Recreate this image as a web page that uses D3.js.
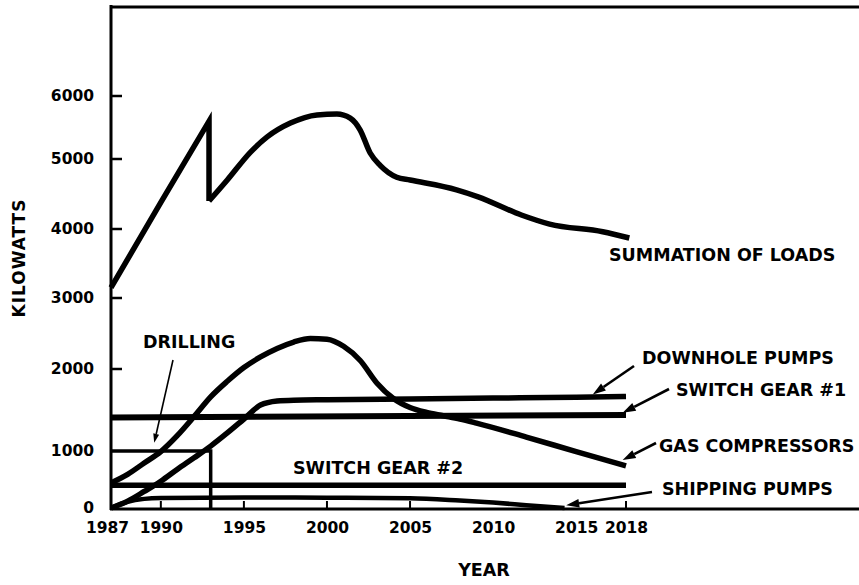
<!DOCTYPE html>
<html>
<head>
<meta charset="utf-8">
<script src="https://cdn.jsdelivr.net/npm/d3@7"></script>
<style>
  html, body { margin: 0; padding: 0; background: #fff; }
  svg { display: block; }
  text { font-family: "DejaVu Sans", sans-serif; font-weight: bold; fill: #000; }
</style>
</head>
<body>
<svg id="chart" width="859" height="585"></svg>
<script>
// Axis ticks
const yearTicks = [1987, 1990, 1995, 2000, 2005, 2010, 2015, 2018];
const yearTickMarks = [1990, 1995, 2000, 2005, 2018];
const kwTicks = [0, 1000, 2000, 3000, 4000, 5000, 6000];
const kwTickMarks = [2000, 3000, 4000, 5000, 6000];

// Load series: [year, kilowatts]
const summationRise = [[1987, 3150], [1990, 4380], [1992.9, 5600], [1992.9, 4400]];
const summationAfter = [
  [1992.9, 4400], [1994, 4700], [1995.4, 5110], [1996.4, 5350], [1997.8, 5570],
  [1999.4, 5700], [2000.6, 5715], [2001.4, 5650], [2002, 5460], [2002.6, 5095],
  [2003.2, 4910], [2004.2, 4740], [2005, 4700], [2007.8, 4560], [2009.1, 4460],
  [2011.7, 4200], [2013.4, 4070], [2016.6, 3960], [2018.2, 3870]
];
const gasCompressors = [
  [1987, 440], [1988, 590], [1989, 790], [1990, 990], [1991, 1190], [1992, 1420],
  [1993, 1660], [1994, 1850], [1995, 2020], [1996, 2170], [1997, 2290], [1998, 2380],
  [1999, 2430], [2000, 2420], [2001, 2320], [2002, 2120], [2003, 1830], [2004, 1640],
  [2005, 1530], [2006, 1470], [2007, 1430], [2008, 1390], [2009, 1340], [2012, 1170],
  [2015, 990], [2018, 740]
];
const downholePumps = [
  [1987, 0], [1988, 120], [1989, 290], [1990, 470], [1991, 680], [1992, 880],
  [1993, 1060], [1994, 1220], [1995, 1390], [1996, 1560], [1997, 1610], [1998, 1620],
  [2000, 1625], [2005, 1635], [2010, 1645], [2015, 1655], [2018, 1665]
];
const switchGear1 = [[1987, 1410], [2018, 1440]];
const switchGear2 = [[1987, 400], [2018, 400]];
const drilling = [[1987, 1000], [1993, 1000], [1993, 0]];
const shippingPumps = [
  [1987, 0], [1988, 110], [1989, 160], [1990, 175], [1995, 185], [2000, 180],
  [2005, 170], [2008, 130], [2010, 95], [2012, 50], [2014.3, 0]
];

const svg = d3.select("#chart");

const x = d3.scaleLinear().domain([1987, 2018]).range([111, 626]);
// The kilowatt axis is hand-spaced: each thousand has its own segment.
const y = d3.scaleLinear().domain(kwTicks).range([508, 451, 369, 298, 229, 159, 96]);

// Frame: left axis, top rule, bottom axis
svg.append("line").attr("x1", 111).attr("y1", 5).attr("x2", 111).attr("y2", 510)
  .attr("stroke", "#000").attr("stroke-width", 3);
svg.append("line").attr("x1", 110).attr("y1", 7).attr("x2", 859).attr("y2", 7)
  .attr("stroke", "#000").attr("stroke-width", 3);
svg.append("line").attr("x1", 110).attr("y1", 509).attr("x2", 859).attr("y2", 509)
  .attr("stroke", "#000").attr("stroke-width", 3);

// Tick marks pointing into the plot
svg.append("g").selectAll("line").data(kwTickMarks).join("line")
  .attr("x1", 111).attr("x2", 122)
  .attr("y1", d => y(d)).attr("y2", d => y(d))
  .attr("stroke", "#000").attr("stroke-width", 2.5);
svg.append("g").selectAll("line").data(yearTickMarks).join("line")
  .attr("x1", d => x(d)).attr("x2", d => x(d))
  .attr("y1", 509).attr("y2", 501)
  .attr("stroke", "#000").attr("stroke-width", 2);

// Tick labels
const xAxis = svg.append("g").attr("transform", "translate(0,509)")
  .call(d3.axisBottom(x).tickValues(yearTicks).tickFormat(d3.format("d")).tickSize(0).tickPadding(13));
const yAxis = svg.append("g").attr("transform", "translate(111,0)")
  .call(d3.axisLeft(y).tickValues(kwTicks).tickFormat(d3.format("d")).tickSize(0).tickPadding(17));
[xAxis, yAxis].forEach(g => {
  g.select(".domain").remove();
  g.selectAll("text")
    .attr("font-family", "DejaVu Sans, sans-serif")
    .attr("font-weight", "bold")
    .attr("font-size", 15.5)
    .attr("fill", "#000");
});
// the first year label sits just left of the corner
xAxis.selectAll(".tick").filter(d => d === 1987).select("text").attr("dx", -4);

// Axis titles
svg.append("text").attr("x", 484).attr("y", 570)
  .attr("text-anchor", "middle").attr("dominant-baseline", "central")
  .attr("font-size", 17.5).text("YEAR");
svg.append("text")
  .attr("transform", "translate(19,258) rotate(-90)")
  .attr("text-anchor", "middle").attr("dominant-baseline", "central")
  .attr("font-size", 17).attr("letter-spacing", 1).text("KILOWATTS");

// Series
const lineSmooth = d3.line().x(d => x(d[0])).y(d => y(d[1])).curve(d3.curveMonotoneX);
const lineStraight = d3.line().x(d => x(d[0])).y(d => y(d[1]));

const plot = svg.append("g").attr("fill", "none").attr("stroke", "#000")
  .attr("stroke-linejoin", "round");

plot.append("path").attr("d", lineStraight(switchGear1)).attr("stroke-width", 6);
plot.append("path").attr("d", lineStraight(switchGear2)).attr("stroke-width", 5.5);
plot.append("path").attr("d", lineStraight(drilling)).attr("stroke-width", 3.5).attr("stroke-linejoin", "miter");
plot.append("path").attr("d", lineSmooth(shippingPumps)).attr("stroke-width", 4.5);
plot.append("path").attr("d", lineSmooth(downholePumps)).attr("stroke-width", 5.5);
plot.append("path").attr("d", lineSmooth(gasCompressors)).attr("stroke-width", 5.5);
plot.append("path").attr("d", lineStraight(summationRise)).attr("stroke-width", 5.5).attr("stroke-linejoin", "miter");
plot.append("path").attr("d", lineSmooth(summationAfter)).attr("stroke-width", 5.5);

// Labels with leader arrows
const notes = [
  { text: "DRILLING", tx: 143, ty: 342, tail: [173, 360], tip: [1989.6, 1100], w: 1.6, head: 9 },
  { text: "DOWNHOLE PUMPS", tx: 642, ty: 358, tail: [634, 366], tip: [2016, 1690], w: 2.6, head: 13 },
  { text: "SWITCH GEAR #1", tx: 676, ty: 390, tail: [669, 389], tip: [2017.8, 1465], w: 2.6, head: 13 },
  { text: "GAS COMPRESSORS", tx: 659, ty: 446, tail: [656, 443], tip: [2017.8, 840], w: 2.6, head: 13 },
  { text: "SHIPPING PUMPS", tx: 662, ty: 489, tail: [652, 492], tip: [2014.4, 50], w: 2.6, head: 13 }
];

const labelSize = 17.5;
const notesG = svg.append("g");
notes.forEach(n => {
  notesG.append("text").attr("x", n.tx).attr("y", n.ty)
    .attr("dominant-baseline", "central").attr("font-size", labelSize).text(n.text);
  const tx = x(n.tip[0]), ty = y(n.tip[1]);
  const dx = tx - n.tail[0], dy = ty - n.tail[1];
  const len = Math.hypot(dx, dy), ux = dx / len, uy = dy / len;
  const bx = tx - ux * n.head, by = ty - uy * n.head;
  const hw = n.head * 0.33;
  notesG.append("line")
    .attr("x1", n.tail[0]).attr("y1", n.tail[1]).attr("x2", bx).attr("y2", by)
    .attr("stroke", "#000").attr("stroke-width", n.w);
  notesG.append("path")
    .attr("d", `M${tx},${ty}L${bx - uy * hw},${by + ux * hw}L${bx + uy * hw},${by - ux * hw}Z`)
    .attr("fill", "#000");
});

svg.append("text").attr("x", 293).attr("y", 468)
  .attr("dominant-baseline", "central").attr("font-size", labelSize).text("SWITCH GEAR #2");
svg.append("text").attr("x", 609).attr("y", 255)
  .attr("dominant-baseline", "central").attr("font-size", labelSize).text("SUMMATION OF LOADS");
</script>
</body>
</html>
